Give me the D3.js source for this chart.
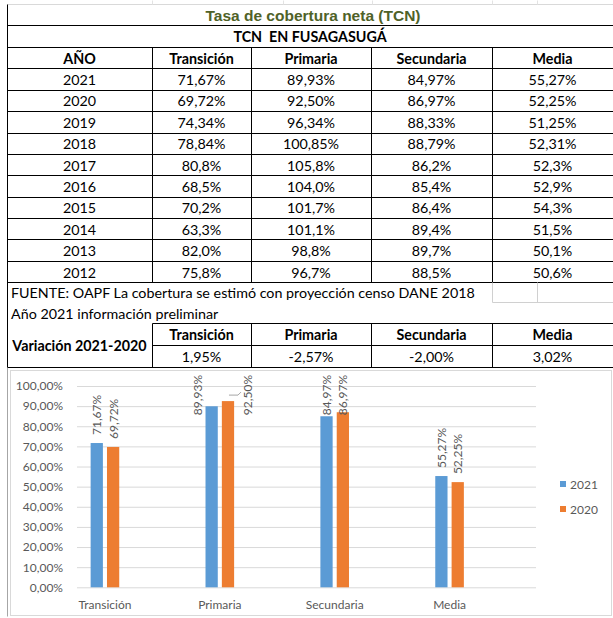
<!DOCTYPE html>
<html>
<head>
<meta charset="utf-8">
<script src="https://cdn.jsdelivr.net/npm/d3@7"></script>
<style>
  body { margin: 0; background: #fff; }
  svg { display: block; }
</style>
</head>
<body>
<svg id="svgElement" width="613" height="618"></svg>
<script>
// ---- data ----
const years = ["2021", "2020", "2019", "2018", "2017", "2016", "2015", "2014", "2013", "2012"];
const decimals = [2, 2, 2, 2, 1, 1, 1, 1, 1, 1];
const levels = ["Transición", "Primaria", "Secundaria", "Media"];
const transicion = [71.67, 69.72, 74.34, 78.84, 80.8, 68.5, 70.2, 63.3, 82.0, 75.8];
const primaria = [89.93, 92.50, 96.34, 100.85, 105.8, 104.0, 101.7, 101.1, 98.8, 96.7];
const secundaria = [84.97, 86.97, 88.33, 88.79, 86.2, 85.4, 86.4, 89.4, 89.7, 88.5];
const media = [55.27, 52.25, 51.25, 52.31, 52.3, 52.9, 54.3, 51.5, 50.1, 50.6];
const variacion = [1.95, -2.57, -2.00, 3.02];
const seriesNames = ["2021", "2020"];
const yTicks = [0, 0.1, 0.2, 0.3, 0.4, 0.5, 0.6, 0.7, 0.8, 0.9, 1.0];

const columns = [transicion, primaria, secundaria, media];

const svg = d3.select("#svgElement");
const loc = d3.formatLocale({ decimal: ",", thousands: ".", grouping: [3], currency: ["", ""], minus: "-" });
const pct = (v, d) => loc.format(`.${d}f`)(v) + "%";

const bodyFont = "Lato, 'Open Sans', sans-serif";
const cellSize = 14.3;

// ---- table ----
const colX = [7, 152, 251, 371, 492, 613];
const colMid = (i) => (colX[i] + colX[i + 1]) / 2;
const crisp = (v) => Math.round(v) + 0.5;

const line = (x1, y1, x2, y2, color) => {
  svg
    .append("line")
    .attr("x1", crisp(x1))
    .attr("y1", crisp(y1))
    .attr("x2", crisp(x2))
    .attr("y2", crisp(y2))
    .attr("stroke", color)
    .attr("stroke-width", 1);
};

const text = (x, y, str, opts = {}) => {
  return svg
    .append("text")
    .attr("x", x)
    .attr("y", y)
    .attr("text-anchor", opts.anchor || "middle")
    .attr("dominant-baseline", "central")
    .attr("font-family", opts.family || bodyFont)
    .attr("font-size", opts.size || cellSize)
    .attr("font-weight", opts.bold ? "bold" : "normal")
    .attr("fill", opts.color || "#000")
    .text(str);
};

const rowY = d3.scaleBand().domain(years).range([68.3, 282.3]);

// faint excel grid above the table
line(7, 4, 613, 4, "#d9d9d9");
[152, 283, 372, 492, 537].forEach((x) => line(x, 0, x, 4, "#e3e3e3"));

// outer left border
line(7, 4, 7, 367, "#000");
line(7, 367, 7, 616, "#a6a6a6");

// header rows
[25, 46.7, 68.3].forEach((y) => line(7, y, 613, y, "#000"));
years.forEach((yr) => line(7, rowY(yr) + rowY.bandwidth(), 613, rowY(yr) + rowY.bandwidth(), "#000"));
colX.slice(1, 5).forEach((x) => line(x, 46.7, x, 282.3, "#000"));

text(313, 15, "Tasa de cobertura neta (TCN)", {
  family: "'Liberation Sans', Arial, sans-serif",
  size: 15.5,
  bold: true,
  color: "#4f6228"
});
text(310, 36.5, "TCN  EN FUSAGASUGÁ", { bold: true }).attr("xml:space", "preserve");

const headers = ["AÑO"].concat(levels);
headers.forEach((h, i) => text(colMid(i), 58, h, { bold: true }));

years.forEach((yr, r) => {
  const cy = rowY(yr) + rowY.bandwidth() / 2 + 0.5;
  text(colMid(0), cy, yr);
  columns.forEach((col, c) => text(colMid(c + 1), cy, pct(col[r], decimals[r])));
});

// source notes
line(492, 282.3, 492, 301.7, "#d0d0d0");
line(537, 282.3, 537, 301.7, "#d0d0d0");
line(492, 301.7, 613, 301.7, "#d0d0d0");
text(11, 292.5, "FUENTE: OAPF La cobertura se estimó con proyección censo DANE 2018", { anchor: "start" });
text(11, 313, "Año 2021 información preliminar", { anchor: "start" });

// variation block
line(152, 323.3, 613, 323.3, "#000");
line(152, 345, 613, 345, "#000");
line(7, 366.7, 613, 366.7, "#000");
colX.slice(1, 5).forEach((x) => line(x, 323.3, x, 366.7, "#000"));
text(colMid(0), 345, "Variación 2021-2020", { bold: true });
levels.forEach((lv, i) => {
  text(colMid(i + 1), 334.5, lv, { bold: true });
  text(colMid(i + 1), 356.5, pct(variacion[i], 2));
});

// ---- chart ----
svg
  .append("rect")
  .attr("x", 10.5)
  .attr("y", 370.5)
  .attr("width", 601)
  .attr("height", 245)
  .attr("fill", "#fff")
  .attr("stroke", "#d9d9d9");

const plotLeft = 77;
const plotRight = 536;
const y = d3.scaleLinear().domain([0, 1]).range([587.3, 386]);
const x = d3.scaleBand().domain(levels).range([47.5, 507]);
const x1 = d3.scaleBand().domain(seriesNames).range([0, 28.6]).paddingInner(0.25);
const colors = d3.scaleOrdinal().domain(seriesNames).range(["#5b9bd5", "#ed7d31"]);

const gridAxis = svg
  .append("g")
  .attr("transform", `translate(${plotLeft},0)`)
  .call(
    d3.axisLeft(y)
      .tickValues(yTicks)
      .tickSize(-(plotRight - plotLeft))
      .tickPadding(14)
      .tickFormat((d) => pct(d * 100, 2))
  );
gridAxis.select(".domain").remove();
gridAxis.selectAll(".tick line").attr("stroke", "#d9d9d9");
gridAxis
  .selectAll(".tick text")
  .attr("fill", "#595959")
  .attr("font-family", bodyFont)
  .attr("font-size", 12);

const catAxis = svg
  .append("g")
  .attr("transform", `translate(0,${y(0)})`)
  .call(d3.axisBottom(x).tickSize(0).tickPadding(13));
catAxis.select(".domain").remove();
catAxis
  .selectAll(".tick text")
  .attr("fill", "#595959")
  .attr("font-family", bodyFont)
  .attr("font-size", 12);

const chartData = levels.map((lv, i) => ({
  level: lv,
  values: seriesNames.map((s, k) => ({ series: s, value: columns[i][k] / 100 }))
}));

const groups = svg
  .selectAll(".group")
  .data(chartData)
  .join("g")
  .attr("class", "group")
  .attr("transform", (d) => `translate(${x(d.level) + x.bandwidth() / 2 - 14.3},0)`);

groups
  .selectAll("rect")
  .data((d) => d.values)
  .join("rect")
  .attr("x", (d) => x1(d.series))
  .attr("y", (d) => y(d.value))
  .attr("width", x1.bandwidth())
  .attr("height", (d) => y(0) - y(d.value))
  .attr("fill", (d) => colors(d.series));

// rotated data labels, kept inside the plot top like excel does
const labelTop = 375;
groups.each(function (g) {
  const grp = d3.select(this);
  g.values.forEach((d) => {
    const cx = x1(d.series) + x1.bandwidth() / 2;
    const barTop = y(d.value);
    const lbl = grp
      .append("text")
      .attr("text-anchor", "start")
      .attr("dominant-baseline", "central")
      .attr("font-family", bodyFont)
      .attr("font-size", 12)
      .attr("fill", "#595959")
      .text(pct(d.value * 100, 2));
    const len = lbl.node().getComputedTextLength();
    const bottom = Math.max(barTop - 8, labelTop + len);
    let lx = cx;
    if (bottom > barTop + 3) {
      lx = d.series === "2021" ? cx - 14.5 : cx + 20;
      if (d.series !== "2021") {
        grp
          .append("polyline")
          .attr("points", `${cx + 1},${barTop - 6} ${lx - 10},${barTop - 6} ${lx - 7},${barTop - 9}`)
          .attr("fill", "none")
          .attr("stroke", "#a6a6a6")
          .attr("stroke-width", 1);
      }
    }
    lbl.attr("transform", `translate(${lx},${bottom}) rotate(-90)`);
  });
});

// legend
const legend = svg
  .selectAll(".legend")
  .data(seriesNames)
  .join("g")
  .attr("class", "legend")
  .attr("transform", (d, i) => `translate(560,${484 + i * 25})`);
legend
  .append("rect")
  .attr("x", 0)
  .attr("y", -3)
  .attr("width", 6)
  .attr("height", 6)
  .attr("fill", (d) => colors(d));
legend
  .append("text")
  .attr("x", 10)
  .attr("y", 0)
  .attr("dominant-baseline", "central")
  .attr("font-family", bodyFont)
  .attr("font-size", 12)
  .attr("fill", "#595959")
  .text((d) => d);
</script>
</body>
</html>
